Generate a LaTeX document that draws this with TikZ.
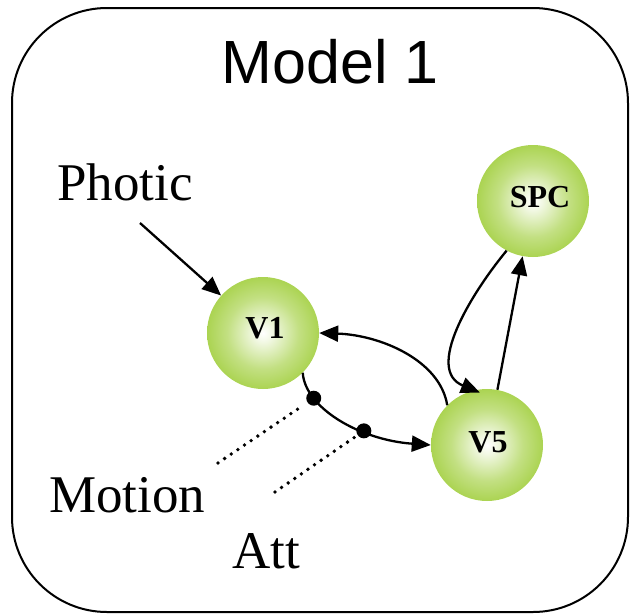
\documentclass[tikz,border=0pt]{standalone}
\usepackage{fontspec}
\setmainfont{Liberation Serif}
\newfontfamily\titlefont{Liberation Sans}
\usetikzlibrary{arrows.meta}

\definecolor{ballgreen}{RGB}{145,198,28}
\pgfdeclareradialshading{greenball}{\pgfpoint{0bp}{0bp}}{%
  color(0bp)=(white); color(4bp)=(ballgreen!12!white);
  color(16bp)=(ballgreen!55!white); color(30bp)=(ballgreen!88!white);
  color(42bp)=(ballgreen); color(50bp)=(ballgreen)}

\tikzset{
  area/.style={x=1pt, y=-1pt},
  frame/.style={draw=black, line width=2pt, rounded corners=95pt},
  ball/.style={circle, minimum size=112pt, inner sep=0pt, shading=greenball},
  balltext/.style={font=\fontsize{32}{38}\selectfont\bfseries},
  plain/.style={inner sep=0pt, font=\fontsize{53}{60}\selectfont},
  arr/.style={line width=2.3pt, -{Triangle[length=19pt,width=16pt]}},
  junction/.style={circle, fill=black, minimum size=15pt, inner sep=0pt},
  dotline/.style={line width=3.8pt, line cap=round, dash pattern=on 0pt off 8pt}
}

\begin{document}
\begin{tikzpicture}[area]
  \useasboundingbox (0,0) rectangle (633,614);

  % outer frame and title
  \draw[frame] (12,8) rectangle (628,612);
  \node[inner sep=0pt, anchor=base, font=\titlefont\fontsize{61}{70}\selectfont]
    (title) at (330,83) {Model 1};

  % regions
  \node[ball, label={[balltext, shift={(2pt,5pt)}]center:V1}] (v1) at (263,333) {};
  \node[ball, label={[balltext, shift={(1pt,3pt)}]center:V5}] (v5) at (487,445) {};
  \node[ball, label={[balltext, shift={(7pt,4pt)}]center:SPC}] (spc) at (533,201) {};

  % inputs and modulators
  \node[plain, anchor=base west] (photic) at (57,200) {Photic};
  \node[plain, anchor=base west] (motion) at (49,512) {Motion};
  \node[plain, anchor=base west] (att) at (232,568) {Att};

  \coordinate (phstart) at (140,223);
  \draw[arr] (phstart) -- (v1);

  % connections between regions
  \draw[arr] (v5.135) .. controls (440,360) and (380,335) .. (v1.0);
  \draw[arr] (v1.-45) .. controls (305,408) and (360,440) .. (v5.180)
    node[junction, pos=0.25] (d1) {}
    node[junction, pos=0.65] (d2) {};
  \draw[arr, shorten >=-6pt] (spc.242) .. controls (470,295) and (425,370) .. (v5.103);
  \draw[arr] (v5) -- (spc);

  % modulatory inputs onto the forward connection
  \coordinate (mstart) at (218,463);
  \coordinate (astart) at (275,492);
  \draw[dotline, shorten >=3pt] (mstart) -- (d1);
  \draw[dotline, shorten >=3pt] (astart) -- (d2);
\end{tikzpicture}
\end{document}
